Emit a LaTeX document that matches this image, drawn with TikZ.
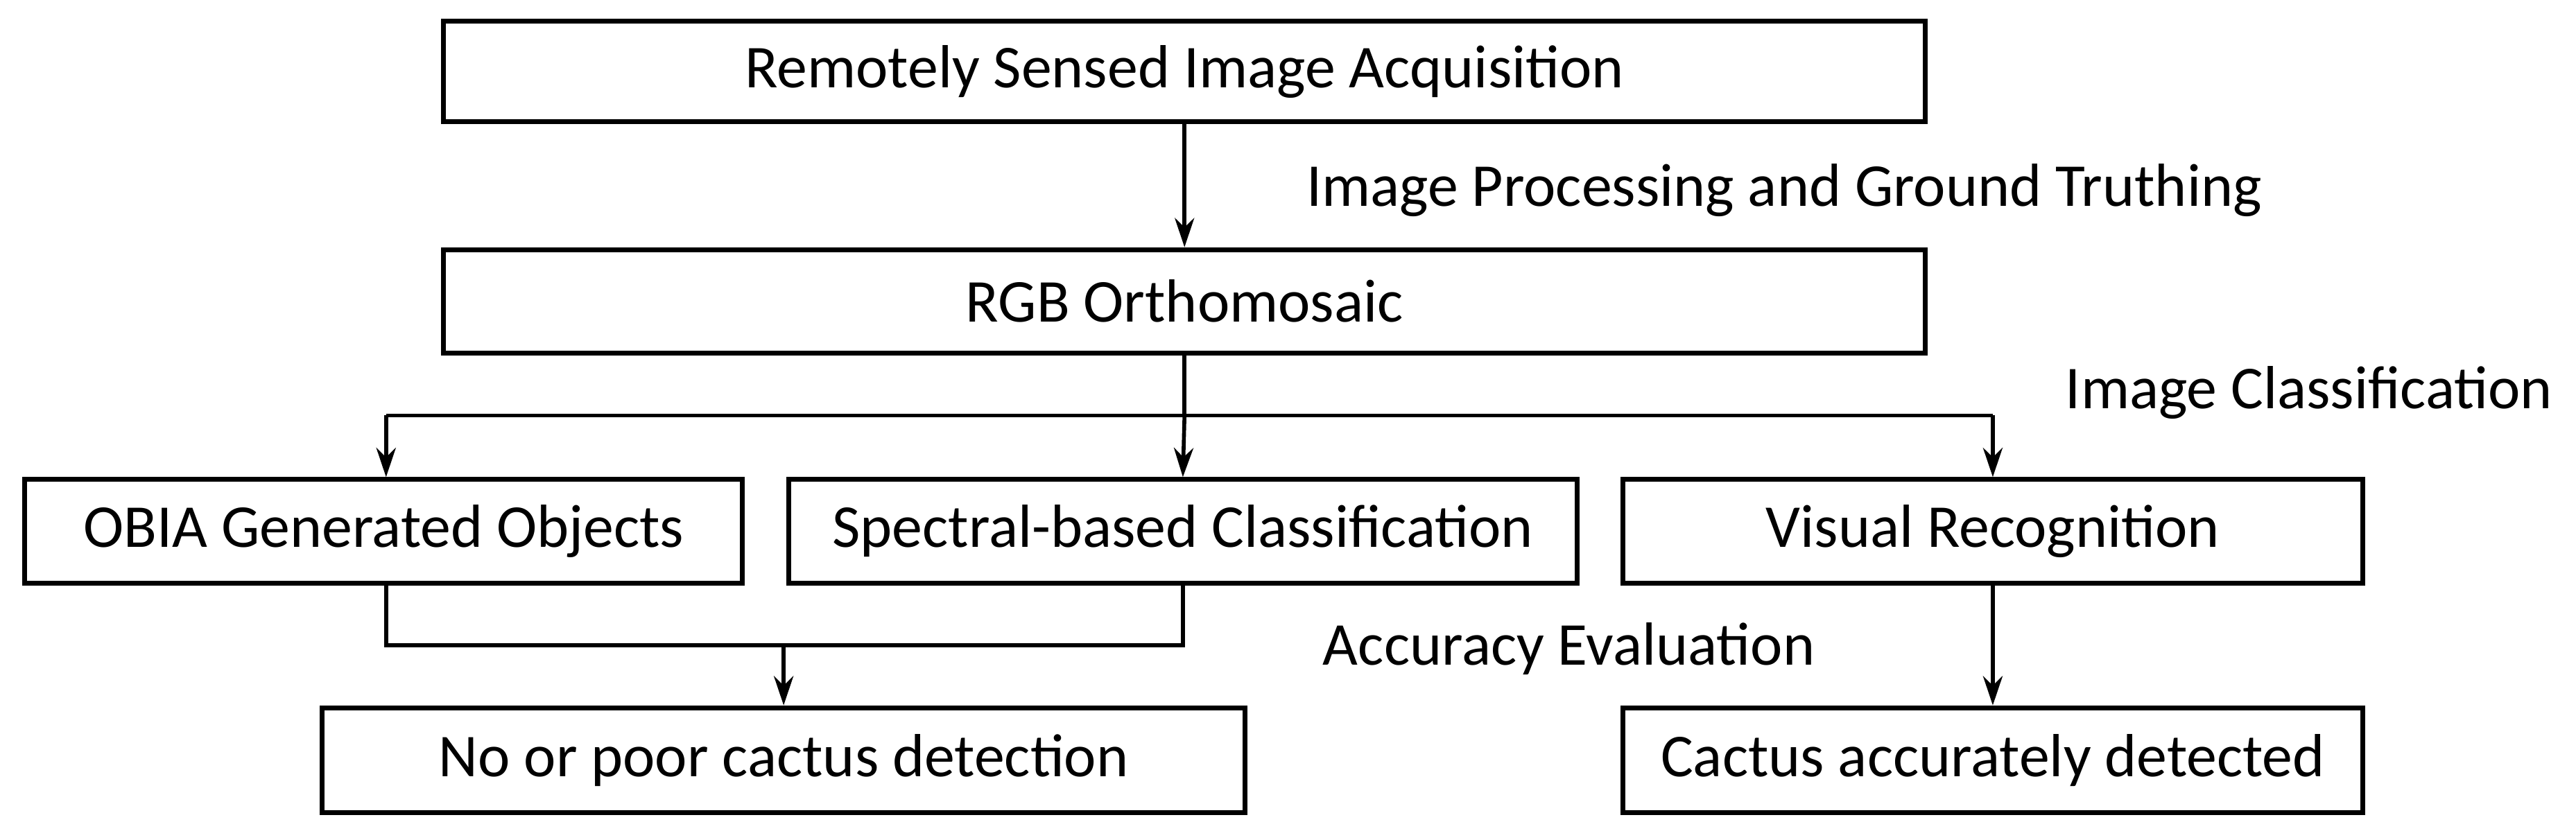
\documentclass[tikz,border=0pt]{standalone}
\usepackage{fontspec}
\setmainfont{Carlito}
\usetikzlibrary{arrows.meta}
\begin{document}
\begin{tikzpicture}[x=0.02369cm,y=-0.02369cm,
  box/.style={draw,line width=2pt,inner sep=0pt,font=\fontsize{25}{30}\selectfont},
  lab/.style={font=\fontsize{25}{30}\selectfont,inner sep=0pt},
  arr/.style={line width=1.6pt,-{Stealth[length=12pt,width=8pt]}},
  ln/.style={line width=1.6pt}]
\useasboundingbox (0,0) rectangle (1568,506);
\node[box,minimum width=902*0.02369cm,minimum height=61*0.02369cm] (a) at (721,43.5) {Remotely Sensed Image Acquisition};
\node[box,minimum width=902*0.02369cm,minimum height=63*0.02369cm] (b) at (721,183.5) {RGB Orthomosaic};
\node[box,minimum width=437*0.02369cm,minimum height=63*0.02369cm] (c) at (233.5,323.5) {OBIA Generated Objects};
\node[box,minimum width=480*0.02369cm,minimum height=63*0.02369cm] (d) at (720,323.5) {Spectral-based Classification};
\node[box,minimum width=450*0.02369cm,minimum height=63*0.02369cm] (e) at (1213,323.5) {Visual Recognition};
\node[box,minimum width=562*0.02369cm,minimum height=64*0.02369cm] (f) at (477,463) {No or poor cactus detection};
\node[box,minimum width=450*0.02369cm,minimum height=64*0.02369cm] (g) at (1213,463) {Cactus accurately detected};
\node[lab,anchor=west] (l1) at (795,116) {Image Processing and Ground Truthing};
\node[lab,anchor=west] (l2) at (1257,239) {Image Classification};
\node[lab,anchor=west] (l3) at (805,395) {Accuracy Evaluation};
\draw[arr] (a.south) -- (b.north);
\coordinate (j1) at (721,253);
\coordinate (jl) at (235,253);
\coordinate (jr) at (1213,253);
\draw[ln] (b.south) -- (j1);
\draw[ln] (jl) -- (jr);
\draw[arr] (jl) -- (jl|-c.north);
\draw[arr] (j1) -- (d.north);
\draw[arr] (jr) -- (e.north);
\coordinate (k1) at (235,393);
\coordinate (k2) at (720,393);
\coordinate (km) at (477,393);
\draw[ln] (k1|-c.south) -- (k1) -- (k2) -- (d.south);
\draw[arr] (km) -- (f.north);
\draw[arr] (e.south) -- (g.north);
\end{tikzpicture}
\end{document}
